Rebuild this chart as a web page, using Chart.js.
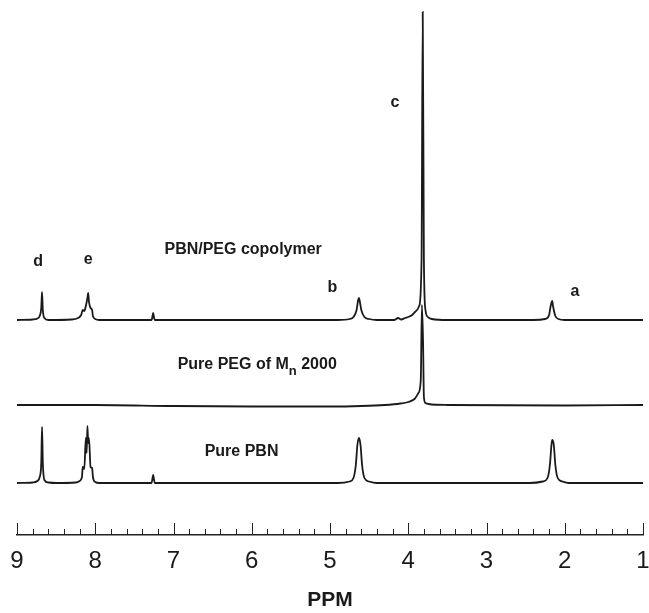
<!DOCTYPE html>
<html>
<head>
<meta charset="utf-8">
<script src="https://cdn.jsdelivr.net/npm/chart.js@4.4.1/dist/chart.umd.min.js"></script>
<style>
  body { margin: 0; background: #fff; }
  #wrap { width: 649px; height: 613px; position: relative; }
</style>
</head>
<body>
<div id="wrap"><canvas id="nmr"></canvas></div>
<script>
// chemical shift (ppm) and peak height above each trace's own baseline
var copolymerPpm = [9.0, 8.80, 8.74, 8.71, 8.69, 8.68, 8.67, 8.65, 8.60, 8.30, 8.22, 8.18, 8.16, 8.14, 8.12, 8.10, 8.09, 8.08, 8.06, 8.04, 8.03, 8.00, 7.95,
    7.28, 7.27, 7.26, 7.25, 7.24, 4.90, 4.75, 4.70, 4.66, 4.64, 4.63, 4.62, 4.60, 4.56, 4.50, 4.40, 4.18, 4.13, 4.09, 4.04, 4.00, 3.95, 3.90, 3.86,
    3.83, 3.815, 3.80, 3.78, 3.75, 3.70, 3.50, 2.40, 2.25, 2.20, 2.18, 2.16, 2.15, 2.12, 2.08, 2.00, 1.0];
var copolymerInt = [0, 0.5, 1.5, 4, 12, 28, 10, 2, 0, 0.5, 2, 5, 10, 9, 14, 22, 27, 18, 12, 10, 4, 1, 0,
    0, 3, 7, 3, 0, 0, 1, 3, 10, 20, 22, 19, 10, 3, 1, 0, 0, 2, 0.5, 2, 3, 5, 9, 14,
    60, 308, 60, 10, 3, 1, 0, 0, 1, 5, 14, 19, 14, 4, 1, 0, 0];

var pegPpm = [9.0, 8.0, 7.0, 6.0, 5.0, 4.6, 4.3, 4.1, 4.0, 3.92, 3.87, 3.84, 3.825, 3.81, 3.80, 3.78, 3.74, 3.5, 2.0, 1.0];
var pegInt = [0, 0, -1, -1.5, -1.5, -1, 0, 1.5, 3, 6, 12, 25, 100, 60, 8, 2, 1, 0, -0.5, 0];

var pbnPpm = [9.0, 8.80, 8.74, 8.71, 8.69, 8.68, 8.67, 8.65, 8.60, 8.50, 8.25, 8.20, 8.17, 8.16, 8.14, 8.12, 8.11, 8.10, 8.09, 8.08, 8.06, 8.04, 8.03, 8.00, 7.95,
    7.28, 7.27, 7.26, 7.25, 7.24, 4.90, 4.75, 4.70, 4.67, 4.65, 4.63, 4.61, 4.59, 4.56, 4.50, 4.40,
    2.45, 2.28, 2.22, 2.19, 2.17, 2.16, 2.14, 2.12, 2.09, 2.03, 1.95, 1.0];
var pbnInt = [0, 0.5, 2, 6, 20, 56, 20, 3, 0.5, 0, 0.5, 2, 6, 16, 14, 45, 30, 57, 40, 45, 16, 15, 6, 1, 0,
    0, 4, 8, 4, 0, 0, 1.5, 5, 18, 38, 45, 38, 18, 5, 1.5, 0,
    0, 1.5, 5, 18, 38, 43, 38, 18, 5, 1.5, 0, 0];

var traceNames = ["PBN/PEG copolymer", "Pure PEG of M", "Pure PBN"];
var peakLetters = ["a", "b", "c", "d", "e"];
var tickLabels = ["9", "8", "7", "6", "5", "4", "3", "2", "1"];

// vertical stacking of the three spectra (layout only)
var offsets = [215, 130, 52];

function toPoints(ppm, ints, off) {
    return ppm.map(function (p, i) { return { x: p, y: ints[i] + off }; });
}

var textPlugin = {
    id: 'nmrText',
    afterDatasetsDraw: function (chart) {
        var ctx = chart.ctx;
        var xs = chart.scales.x, ys = chart.scales.y;
        ctx.save();
        ctx.fillStyle = '#1a1a1a';
        ctx.textAlign = 'center';
        ctx.textBaseline = 'middle';
        ctx.font = 'bold 16px "Liberation Sans", Arial, sans-serif';

        var letterPos = [[1.87, 243], [4.97, 247], [4.17, 432], [8.73, 273], [8.09, 275]];
        peakLetters.forEach(function (l, i) {
            ctx.fillText(l, xs.getPixelForValue(letterPos[i][0]), ys.getPixelForValue(letterPos[i][1]));
        });

        ctx.fillText(traceNames[0], xs.getPixelForValue(6.11), ys.getPixelForValue(285));
        ctx.fillText(traceNames[2], xs.getPixelForValue(6.13), ys.getPixelForValue(83));

        // Pure PEG of Mn 2000 with subscript n
        var cx = xs.getPixelForValue(5.93), cy = ys.getPixelForValue(170);
        var a = traceNames[1], b = ' 2000';
        var wa = ctx.measureText(a).width, wb = ctx.measureText(b).width;
        ctx.font = 'bold 13px "Liberation Sans", Arial, sans-serif';
        var wn = ctx.measureText('n').width;
        var left = cx - (wa + wn + wb) / 2;
        ctx.textAlign = 'left';
        ctx.font = 'bold 16px "Liberation Sans", Arial, sans-serif';
        ctx.fillText(a, left, cy);
        ctx.fillText(b, left + wa + wn, cy);
        ctx.font = 'bold 13px "Liberation Sans", Arial, sans-serif';
        ctx.fillText('n', left + wa, cy + 6);

        // axis ticks pointing up from the axis line
        var base = chart.chartArea.bottom;
        ctx.strokeStyle = '#222';
        ctx.lineWidth = 1;
        for (var i = 0; i <= 40; i++) {
            var v = 9 - i * 0.2;
            var px = Math.round(xs.getPixelForValue(v)) + 0.5;
            var len = (i % 5 === 0) ? 12 : 6;
            ctx.beginPath();
            ctx.moveTo(px, base);
            ctx.lineTo(px, base - len);
            ctx.stroke();
        }
        ctx.restore();
    }
};

var lineStyle = {
    borderColor: '#1a1a1a',
    borderWidth: 1.8,
    pointRadius: 0,
    fill: false,
    cubicInterpolationMode: 'monotone',
    clip: false
};

new Chart(document.getElementById('nmr'), {
    type: 'line',
    data: {
        datasets: [
            Object.assign({ label: traceNames[0], data: toPoints(copolymerPpm, copolymerInt, offsets[0]) }, lineStyle),
            Object.assign({ label: traceNames[1], data: toPoints(pegPpm, pegInt, offsets[1]) }, lineStyle),
            Object.assign({ label: traceNames[2], data: toPoints(pbnPpm, pbnInt, offsets[2]) }, lineStyle)
        ]
    },
    options: {
        responsive: true,
        maintainAspectRatio: false,
        animation: false,
        layout: { padding: { top: 12, left: 17, right: 6, bottom: 0 } },
        plugins: { legend: { display: false }, tooltip: { enabled: false } },
        scales: {
            x: {
                type: 'linear',
                reverse: true,
                min: 1,
                max: 9,
                grid: { display: false, drawTicks: false },
                border: { display: true, color: '#222', width: 1.5 },
                ticks: {
                    stepSize: 1,
                    padding: 12,
                    color: '#1a1a1a',
                    font: { family: '"Liberation Sans", Arial, sans-serif', size: 24 },
                    maxRotation: 0,
                    callback: function (v) { return tickLabels[9 - v]; }
                },
                title: {
                    display: true,
                    text: 'PPM',
                    color: '#1a1a1a',
                    font: { family: '"Liberation Sans", Arial, sans-serif', size: 21, weight: 'bold' },
                    padding: { top: 0, bottom: 0 }
                },
                afterFit: function (s) {
                    s.height = 78;
                    s.paddingLeft = 0;
                    s.paddingRight = 0;
                }
            },
            y: { display: false, min: 0, max: 523 }
        }
    },
    plugins: [textPlugin]
});
</script>
</body>
</html>
